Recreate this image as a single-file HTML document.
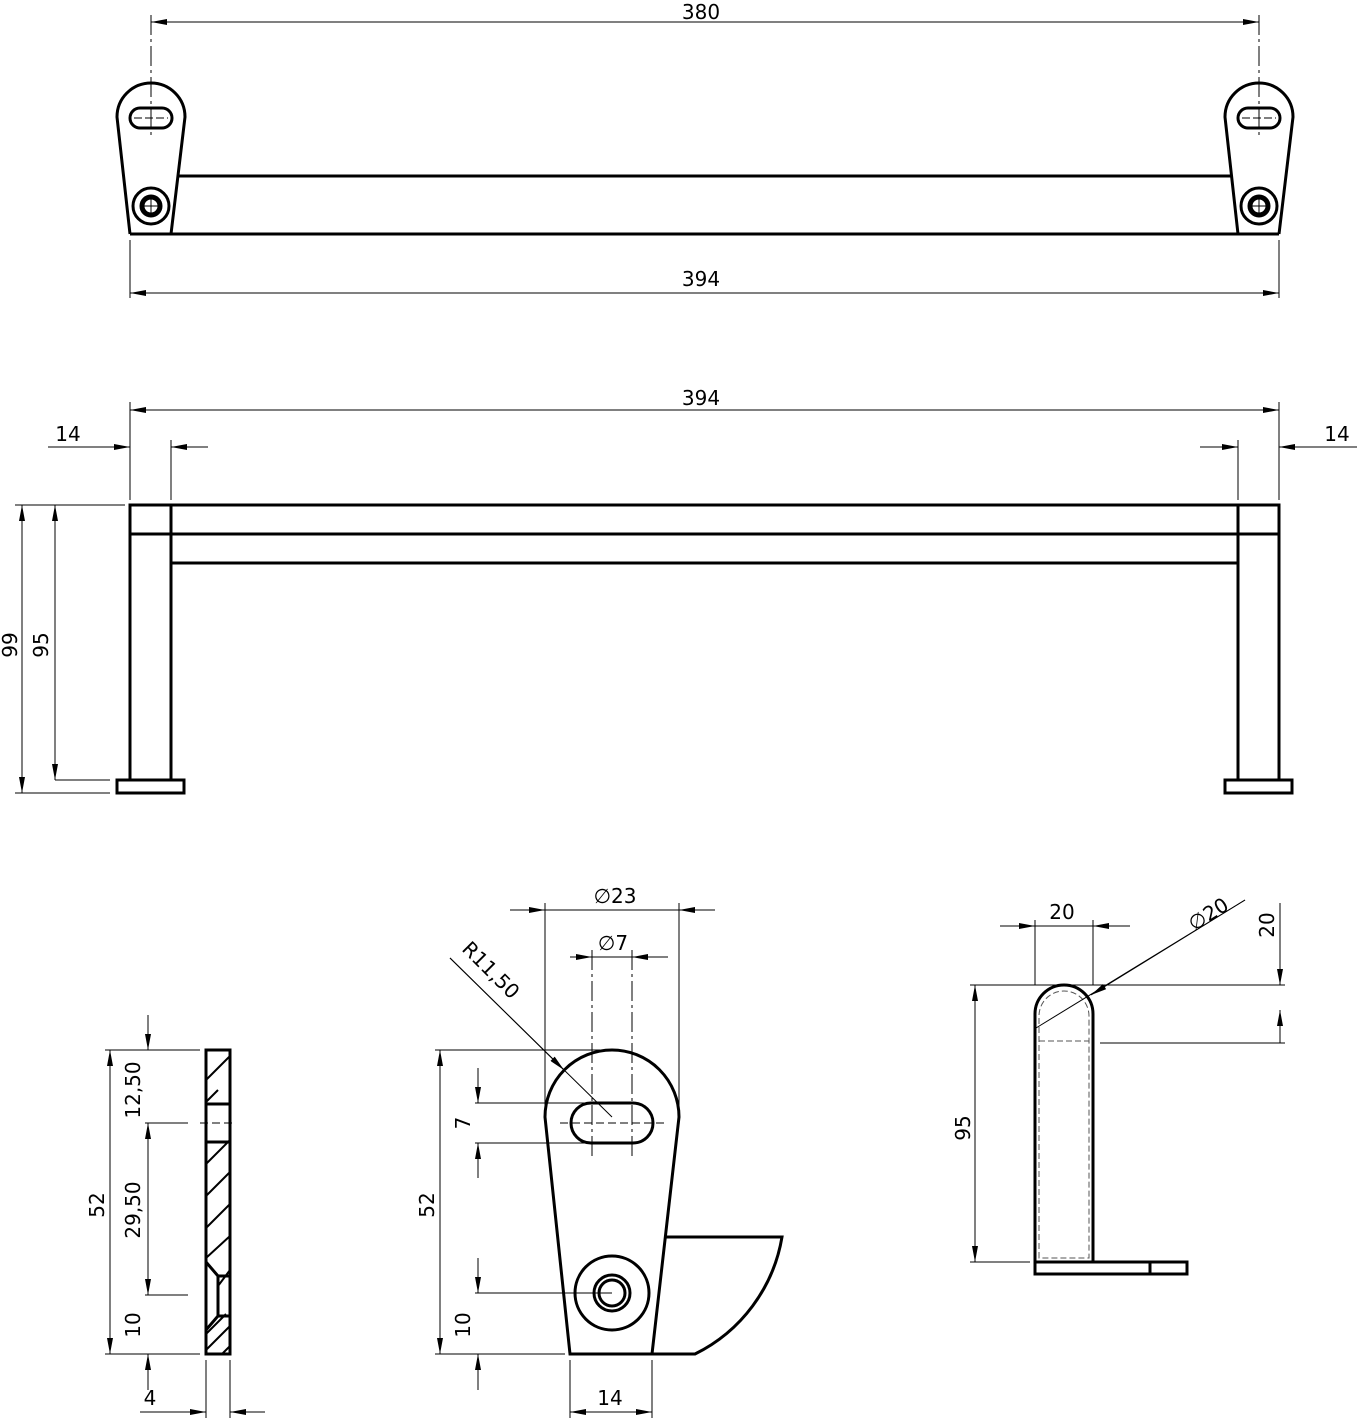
<!DOCTYPE html>
<html><head><meta charset="utf-8"><style>html,body{margin:0;padding:0;background:#fff}svg{display:block}text{font-family:"DejaVu Sans","Liberation Sans",sans-serif;font-size:20px;fill:#000}</style></head><body>
<svg width="1362" height="1418" viewBox="0 0 1362 1418" xmlns="http://www.w3.org/2000/svg">
<defs><marker id="a" markerWidth="16" markerHeight="6" refX="16" refY="3" orient="auto-start-reverse" markerUnits="userSpaceOnUse"><path d="M0,0 L16,3 L0,6 z" fill="#000"/></marker></defs>
<g fill="none" stroke="#000">
<g stroke-width="3">
<path d="M130,234 L117,117 A34,34 0 0 1 185,117 L171,234"/>
<path d="M1238,234 L1225,117 A34,34 0 0 1 1293,117 L1279,234"/>
<rect x="130" y="108" width="42" height="20" rx="10"/>
<rect x="1238" y="108" width="42" height="20" rx="10"/>
<circle cx="151" cy="206" r="18"/><circle cx="151" cy="206" r="9" stroke-width="5"/>
<circle cx="1259" cy="206" r="18"/><circle cx="1259" cy="206" r="9" stroke-width="5"/>
<line x1="177" y1="176" x2="1232" y2="176"/>
<line x1="130" y1="234" x2="1279" y2="234"/>
</g>
<g stroke-width="1">
<line x1="151" y1="15" x2="151" y2="135" stroke-dasharray="20,4,3,4"/>
<line x1="1259" y1="15" x2="1259" y2="135" stroke-dasharray="20,4,3,4"/>
<line x1="151" y1="22" x2="1259" y2="22" marker-start="url(#a)" marker-end="url(#a)"/>
<line x1="130" y1="240" x2="130" y2="298"/><line x1="1279" y1="240" x2="1279" y2="298"/>
<line x1="130" y1="293" x2="1279" y2="293" marker-start="url(#a)" marker-end="url(#a)"/>
<line x1="134" y1="118" x2="168" y2="118" stroke-dasharray="8,3"/><line x1="1242" y1="118" x2="1276" y2="118" stroke-dasharray="8,3"/>
<line x1="143" y1="206" x2="159" y2="206"/><line x1="151" y1="198" x2="151" y2="214"/>
<line x1="1251" y1="206" x2="1267" y2="206"/><line x1="1259" y1="198" x2="1259" y2="214"/>
</g>
<g stroke-width="3">
<rect x="130" y="505" width="1149" height="29"/>
<line x1="171" y1="505" x2="171" y2="780"/><line x1="130" y1="534" x2="130" y2="780"/>
<line x1="1238" y1="505" x2="1238" y2="780"/><line x1="1279" y1="534" x2="1279" y2="780"/>
<line x1="171" y1="563" x2="1238" y2="563"/>
<rect x="117" y="780" width="67" height="13"/>
<rect x="1225" y="780" width="67" height="13"/>
</g>
<g stroke-width="1">
<line x1="130" y1="402" x2="130" y2="500"/><line x1="1279" y1="402" x2="1279" y2="500"/>
<line x1="130" y1="410" x2="1279" y2="410" marker-start="url(#a)" marker-end="url(#a)"/>
<line x1="171" y1="440" x2="171" y2="500"/><line x1="1238" y1="440" x2="1238" y2="500"/>
<line x1="48" y1="447" x2="130" y2="447" marker-end="url(#a)"/><line x1="208" y1="447" x2="171" y2="447" marker-end="url(#a)"/>
<line x1="1200" y1="447" x2="1238" y2="447" marker-end="url(#a)"/><line x1="1357" y1="447" x2="1279" y2="447" marker-end="url(#a)"/>
<line x1="15" y1="505" x2="125" y2="505"/><line x1="55" y1="780" x2="110" y2="780"/><line x1="15" y1="793" x2="110" y2="793"/>
<line x1="22" y1="505" x2="22" y2="793" marker-start="url(#a)" marker-end="url(#a)"/>
<line x1="55" y1="505" x2="55" y2="780" marker-start="url(#a)" marker-end="url(#a)"/>
</g>
<g stroke-width="3"><rect x="206" y="1050" width="24" height="304"/>
<line x1="206" y1="1104" x2="230" y2="1104"/><line x1="206" y1="1142" x2="230" y2="1142"/>
<path d="M206,1262 L218,1276 L230,1276 M218,1276 L218,1316 L206,1330 M218,1316 L230,1316"/></g>
<g stroke-width="2"><path d="M206,1080 L230,1056 M206,1102 L218,1090 M206,1164 L230,1140 M206,1196 L230,1172 M206,1228 L230,1204 M206,1258 L230,1236 M218,1286 L230,1270 M206,1334 L226,1314 M206,1350 L230,1326 M222,1354 L230,1346"/></g>
<g stroke-width="1">
<line x1="200" y1="1123" x2="236" y2="1123" stroke-dasharray="8,4"/>
<line x1="105" y1="1050" x2="200" y2="1050"/><line x1="145" y1="1123" x2="188" y2="1123"/><line x1="145" y1="1295" x2="188" y2="1295"/><line x1="105" y1="1354" x2="200" y2="1354"/>
<line x1="110" y1="1050" x2="110" y2="1354" marker-start="url(#a)" marker-end="url(#a)"/>
<line x1="148" y1="1015" x2="148" y2="1050" marker-end="url(#a)"/><line x1="148" y1="1123" x2="148" y2="1295" marker-start="url(#a)" marker-end="url(#a)"/>
<line x1="148" y1="1390" x2="148" y2="1354" marker-end="url(#a)"/>
<line x1="206" y1="1360" x2="206" y2="1418"/><line x1="230" y1="1360" x2="230" y2="1418"/>
<line x1="140" y1="1412" x2="206" y2="1412" marker-end="url(#a)"/><line x1="265" y1="1412" x2="230" y2="1412" marker-end="url(#a)"/>
</g>
<g stroke-width="3">
<path d="M570,1354 L545,1117 A67,67 0 0 1 679,1117 L652,1354 Z"/>
<rect x="571" y="1103" width="82" height="40" rx="20"/>
<circle cx="612" cy="1293" r="37"/><circle cx="612" cy="1293" r="18"/><circle cx="612" cy="1293" r="13" stroke-width="3"/>
<path d="M665,1237 L782,1237 A160,160 0 0 1 695,1354 L652,1354"/>
</g>
<g stroke-width="1">
<line x1="545" y1="903" x2="545" y2="1110"/><line x1="679" y1="903" x2="679" y2="1110"/>
<line x1="510" y1="910" x2="545" y2="910" marker-end="url(#a)"/><line x1="715" y1="910" x2="679" y2="910" marker-end="url(#a)"/>
<line x1="545" y1="910" x2="679" y2="910"/>
<line x1="592" y1="950" x2="592" y2="1160" stroke-dasharray="20,4,3,4"/><line x1="632" y1="950" x2="632" y2="1160" stroke-dasharray="20,4,3,4"/>
<line x1="570" y1="957" x2="592" y2="957" marker-end="url(#a)"/><line x1="668" y1="957" x2="632" y2="957" marker-end="url(#a)"/>
<line x1="592" y1="957" x2="632" y2="957"/>
<line x1="450" y1="958" x2="612" y2="1117"/><line x1="450" y1="958" x2="564" y2="1070" marker-end="url(#a)"/>
<line x1="475" y1="1103" x2="600" y2="1103"/><line x1="475" y1="1143" x2="600" y2="1143"/>
<line x1="478" y1="1068" x2="478" y2="1103" marker-end="url(#a)"/><line x1="478" y1="1178" x2="478" y2="1143" marker-end="url(#a)"/>
<line x1="435" y1="1050" x2="600" y2="1050"/><line x1="435" y1="1354" x2="565" y2="1354"/>
<line x1="440" y1="1050" x2="440" y2="1354" marker-start="url(#a)" marker-end="url(#a)"/>
<line x1="475" y1="1293" x2="612" y2="1293"/>
<line x1="478" y1="1258" x2="478" y2="1293" marker-end="url(#a)"/><line x1="478" y1="1390" x2="478" y2="1354" marker-end="url(#a)"/>
<line x1="560" y1="1123" x2="664" y2="1123" stroke-dasharray="8,4"/>
<line x1="570" y1="1360" x2="570" y2="1418"/><line x1="652" y1="1360" x2="652" y2="1418"/>
<line x1="570" y1="1412" x2="652" y2="1412" marker-start="url(#a)" marker-end="url(#a)"/>
</g>
<g stroke-width="3">
<path d="M1035,1262 L1035,1014 A29,29 0 0 1 1093,1014 L1093,1262"/>
<rect x="1035" y="1262" width="152" height="12"/><line x1="1150" y1="1262" x2="1150" y2="1274"/>
</g>
<g stroke-width="1">
<path d="M1039,1258 L1039,1016 A25,25 0 0 1 1089,1016 L1089,1258 Z M1039,1041 L1089,1041" stroke="#555" stroke-dasharray="6,3"/>
<line x1="1035" y1="920" x2="1035" y2="985"/><line x1="1093" y1="920" x2="1093" y2="985"/>
<line x1="1000" y1="926" x2="1035" y2="926" marker-end="url(#a)"/><line x1="1130" y1="926" x2="1093" y2="926" marker-end="url(#a)"/>
<line x1="1035" y1="926" x2="1093" y2="926"/>
<line x1="1245" y1="900" x2="1036" y2="1028"/><line x1="1245" y1="900" x2="1091" y2="995" marker-end="url(#a)"/>
<line x1="970" y1="985" x2="1285" y2="985"/><line x1="1100" y1="1043" x2="1285" y2="1043"/>
<line x1="1280" y1="903" x2="1280" y2="985" marker-end="url(#a)"/><line x1="1280" y1="1043" x2="1280" y2="1010" marker-end="url(#a)"/>
<line x1="970" y1="1262" x2="1030" y2="1262"/>
<line x1="975" y1="985" x2="975" y2="1262" marker-start="url(#a)" marker-end="url(#a)"/>
</g>
</g>
<g text-anchor="middle">
<text x="701" y="19">380</text><text x="701" y="286">394</text><text x="701" y="405">394</text>
<text x="68" y="441">14</text><text x="1337" y="441">14</text>
<text transform="translate(17,645) rotate(-90)">99</text><text transform="translate(48,645) rotate(-90)">95</text>
<text transform="translate(140,1090) rotate(-90)">12,50</text><text transform="translate(140,1210) rotate(-90)">29,50</text>
<text transform="translate(140,1325) rotate(-90)">10</text><text transform="translate(104,1205) rotate(-90)">52</text>
<text x="150" y="1405">4</text>
<text x="615" y="903">∅23</text><text x="613" y="950">∅7</text>
<text transform="translate(486,975) rotate(45)">R11,50</text>
<text transform="translate(470,1123) rotate(-90)">7</text><text transform="translate(434,1205) rotate(-90)">52</text>
<text transform="translate(470,1325) rotate(-90)">10</text><text x="610" y="1405">14</text>
<text x="1062" y="919">20</text><text transform="translate(1212,920) rotate(-32)">∅20</text>
<text transform="translate(1274,925) rotate(-90)">20</text><text transform="translate(970,1128) rotate(-90)">95</text>
</g>
</svg>
</body></html>
